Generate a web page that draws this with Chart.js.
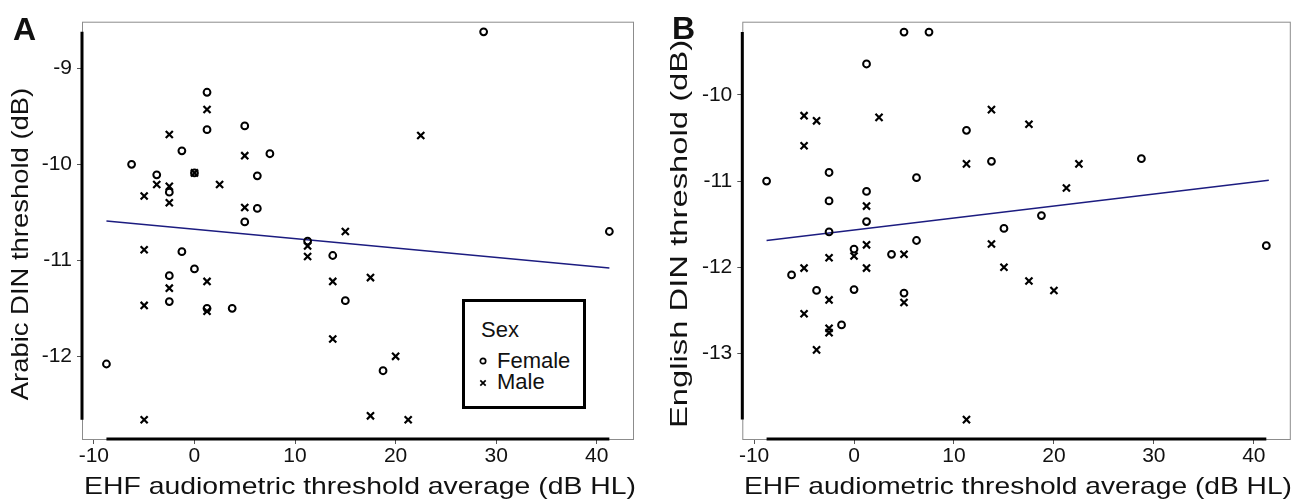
<!DOCTYPE html>
<html lang="en">
<head>
<meta charset="UTF-8">
<title>EHF threshold vs DIN threshold</title>
<script src="https://cdn.jsdelivr.net/npm/chart.js"></script>
<style>
    body {
        margin: 0;
        background: white;
        font-family: "Liberation Sans", Arial, Helvetica, sans-serif;
        color: #111;
    }
    .figure { position: relative; width: 1298px; height: 503px; overflow: hidden; }
    .panel { position: absolute; top: 0; }
    #panelA { left: 0; }
    #panelB { left: 650px; }
    .txt {
        position: absolute;
        white-space: nowrap;
        line-height: 1;
        transform-origin: center center;
    }
    .letter { font-weight: bold; font-size: 32px; }
    /* legend box inside panel A */
    .legend {
        position: absolute;
        left: 462px; top: 299px;
        width: 124px; height: 110px;
        box-sizing: border-box;
        border: 3px solid #000;
        background: white;
    }
    .legend span { position: absolute; white-space: nowrap; line-height: 1; font-size: 22px; transform: translateY(-50%); }
    .legend svg { position: absolute; }
</style>
</head>
<body>
<div class="figure">
    <canvas id="panelA" class="panel" width="650" height="503"></canvas>
    <canvas id="panelB" class="panel" width="648" height="503"></canvas>

    <!-- panel letters -->
    <div class="txt letter" style="left:24.5px; top:29px;">A</div>
    <div class="txt letter" style="left:683.5px; top:28px;">B</div>

    <!-- axis titles -->
    <div class="txt" style="left:360px; top:486px; font-size:24px;" data-len="552" data-rot="0">EHF audiometric threshold average (dB HL)</div>
    <div class="txt" style="left:1018px; top:486px; font-size:24px;" data-len="548" data-rot="0">EHF audiometric threshold average (dB HL)</div>
    <div class="txt" style="left:19.5px; top:244px; font-size:24px;" data-len="312" data-rot="-90">Arabic DIN threshold (dB)</div>
    <div class="txt" style="left:679px; top:234px; font-size:24px;" data-len="388" data-rot="-90">English DIN threshold (dB)</div>

    <!-- legend (panel A) -->
    <div class="legend">
        <span style="left:16px; top:28px;">Sex</span>
        <svg style="left:13px; top:54px;" width="10" height="10"><circle cx="5" cy="5" r="2.7" fill="none" stroke="#000" stroke-width="1.7"/></svg>
        <span style="left:32px; top:59px;">Female</span>
        <svg style="left:13px; top:76px;" width="10" height="10"><path d="M2.3 2.3 L7.7 7.7 M7.7 2.3 L2.3 7.7" stroke="#000" stroke-width="1.7"/></svg>
        <span style="left:32px; top:80px;">Male</span>
    </div>
</div>

<script>
    // ---- data ----
    // x: EHF audiometric threshold average (dB HL), y: DIN threshold (dB)
    const arabicFemaleEhf = [1.25, 1.25, 5, -1.25, 7.5, -6.25, 0, -3.75, 6.25, -2.5, 6.25, 5, 11.25, 13.75, -1.25, 0, -2.5, -2.5, 1.25, 3.75, -8.75, 15, 28.75, 41.25, 18.75];
    const arabicFemaleDin = [-9.25, -9.64, -9.60, -9.86, -9.89, -10.0, -10.09, -10.11, -10.12, -10.29, -10.46, -10.60, -10.80, -10.95, -10.91, -11.09, -11.16, -11.43, -11.50, -11.50, -12.08, -11.42, -8.62, -10.70, -12.15];
    const arabicMaleEhf = [1.25, -2.5, 5, 0, -3.75, -2.5, 2.5, -5, -2.5, 5, 15, 11.25, 11.25, -5, -2.5, 1.25, -5, 1.25, -5, 13.75, 13.75, 22.5, 17.5, 20, 17.5, 21.25];
    const arabicMaleDin = [-9.43, -9.69, -9.91, -10.09, -10.21, -10.23, -10.21, -10.33, -10.40, -10.45, -10.70, -10.85, -10.96, -10.89, -11.29, -11.22, -11.47, -11.53, -12.66, -11.22, -11.82, -9.70, -11.18, -12.0, -12.62, -12.66];
    const arabicFitEhf = [-8.75, 41.25];
    const arabicFitDin = [-10.59, -11.08];

    const englishFemaleEhf = [5, 7.5, 1.25, 11.25, 13.75, -8.75, -2.5, 6.25, 1.25, -2.5, 1.25, -2.5, 6.25, 0, 3.75, -6.25, -3.75, 0, 5, -1.25, 28.75, 18.75, 15, 41.25];
    const englishFemaleDin = [-9.27, -9.27, -9.64, -10.41, -10.77, -11.0, -10.90, -10.96, -11.12, -11.23, -11.47, -11.59, -11.69, -11.79, -11.85, -12.09, -12.27, -12.26, -12.30, -12.67, -10.74, -11.40, -11.55, -11.75];
    const englishMaleEhf = [-5, -3.75, 2.5, -5, 13.75, 11.25, 1.25, 1.25, 13.75, 0, -2.5, 5, -5, 1.25, -2.5, 5, -5, -2.5, -2.5, -3.75, 11.25, 17.5, 22.5, 21.25, 15, 17.5, 20];
    const englishMaleDin = [-10.24, -10.30, -10.26, -10.59, -10.17, -10.80, -11.29, -11.74, -11.73, -11.87, -11.89, -11.85, -12.01, -12.01, -12.38, -12.41, -12.54, -12.71, -12.76, -12.96, -13.77, -10.34, -10.80, -11.08, -12.0, -12.16, -12.27];
    const englishFitEhf = [-8.75, 41.5];
    const englishFitDin = [-11.69, -10.99];

    const xTickValues = [-10, 0, 10, 20, 30, 40];
    const arabicTickValues = [-12, -11, -10, -9];
    const englishTickValues = [-13, -12, -11, -10];

    const FONT = '"Liberation Sans", Arial, Helvetica, sans-serif';

    function toPoints(xs, ys) {
        return xs.map((x, i) => ({ x: x, y: ys[i] }));
    }

    // thin panel frame + thick axis lines over the data range
    const framePlugin = {
        id: 'frame',
        beforeDatasetsDraw(chart) {
            const { ctx, chartArea: a, scales } = chart;
            let xs = [], ys = [];
            chart.data.datasets.forEach(d => {
                if (d.showLine) return;
                d.data.forEach(p => { xs.push(p.x); ys.push(p.y); });
            });
            ctx.save();
            ctx.strokeStyle = '#8c8c8c';
            ctx.lineWidth = 1;
            ctx.strokeRect(a.left + 0.5, a.top + 0.5, a.right - a.left - 1, a.bottom - a.top);
            ctx.strokeStyle = '#000';
            ctx.lineWidth = 3;
            ctx.lineCap = 'butt';
            ctx.beginPath();
            ctx.moveTo(a.left, scales.y.getPixelForValue(Math.min(...ys)));
            ctx.lineTo(a.left, scales.y.getPixelForValue(Math.max(...ys)));
            ctx.moveTo(scales.x.getPixelForValue(Math.min(...xs)), a.bottom);
            ctx.lineTo(scales.x.getPixelForValue(Math.max(...xs)), a.bottom);
            ctx.stroke();
            ctx.restore();
        }
    };

    function makeChart(id, female, male, fit, yMin, yMax, yTicks, yWidth, padRight) {
        const ctx = document.getElementById(id).getContext('2d');
        return new Chart(ctx, {
            type: 'scatter',
            data: {
                datasets: [
                    {
                        label: 'Female',
                        data: female,
                        pointStyle: 'circle',
                        pointRadius: 3.4,
                        borderWidth: 2,
                        borderColor: '#000',
                        backgroundColor: 'rgba(0,0,0,0)'
                    },
                    {
                        label: 'Male',
                        data: male,
                        pointStyle: 'crossRot',
                        pointRadius: 5,
                        borderWidth: 2.2,
                        borderColor: '#000',
                        backgroundColor: '#000'
                    },
                    {
                        label: 'fit',
                        data: fit,
                        showLine: true,
                        pointRadius: 0,
                        borderColor: '#1c1c80',
                        borderWidth: 1.4
                    }
                ]
            },
            options: {
                responsive: false,
                animation: false,
                layout: { padding: { top: 21.7, right: padRight, left: 0, bottom: 0 } },
                plugins: { legend: { display: false }, tooltip: { enabled: false } },
                scales: {
                    x: {
                        type: 'linear',
                        min: -11.18,
                        max: 43.7,
                        afterBuildTicks: s => { s.ticks = xTickValues.map(v => ({ value: v })); },
                        afterFit: s => { s.height = 64; },
                        grid: { drawOnChartArea: false, drawTicks: true, tickLength: 5, color: '#555' },
                        border: { display: false },
                        ticks: {
                            font: { family: FONT, size: 21 },
                            color: '#111',
                            padding: 0,
                            maxRotation: 0,
                            autoSkip: false,
                            callback: v => String(v)
                        }
                    },
                    y: {
                        type: 'linear',
                        min: yMin,
                        max: yMax,
                        afterBuildTicks: s => { s.ticks = yTicks.map(v => ({ value: v })); },
                        afterFit: s => { s.width = yWidth; },
                        grid: { drawOnChartArea: false, drawTicks: true, tickLength: 5, color: '#555' },
                        border: { display: false },
                        ticks: {
                            font: { family: FONT, size: 21 },
                            color: '#111',
                            padding: 5,
                            autoSkip: false,
                            callback: v => String(v)
                        }
                    }
                }
            },
            plugins: [framePlugin]
        });
    }

    makeChart('panelA',
        toPoints(arabicFemaleEhf, arabicFemaleDin),
        toPoints(arabicMaleEhf, arabicMaleDin),
        toPoints(arabicFitEhf, arabicFitDin),
        -12.861, -8.515, arabicTickValues, 82, 16);

    makeChart('panelB',
        toPoints(englishFemaleEhf, englishFemaleDin),
        toPoints(englishMaleEhf, englishMaleDin),
        toPoints(englishFitEhf, englishFitDin),
        -13.995, -9.149, englishTickValues, 92.3, 6);

    // stretch the axis titles to the lengths they have in the figure
    function fitTitles() {
        document.querySelectorAll('.txt').forEach(el => {
            if (!el.dataset.len) {
                el.style.transform = 'translate(-50%,-50%)';
                return;
            }
            const s = parseFloat(el.dataset.len) / el.offsetWidth;
            el.style.transform = `translate(-50%,-50%) rotate(${el.dataset.rot}deg) scaleX(${s})`;
        });
    }
    fitTitles();
    if (document.fonts) document.fonts.ready.then(fitTitles);
</script>
</body>
</html>
